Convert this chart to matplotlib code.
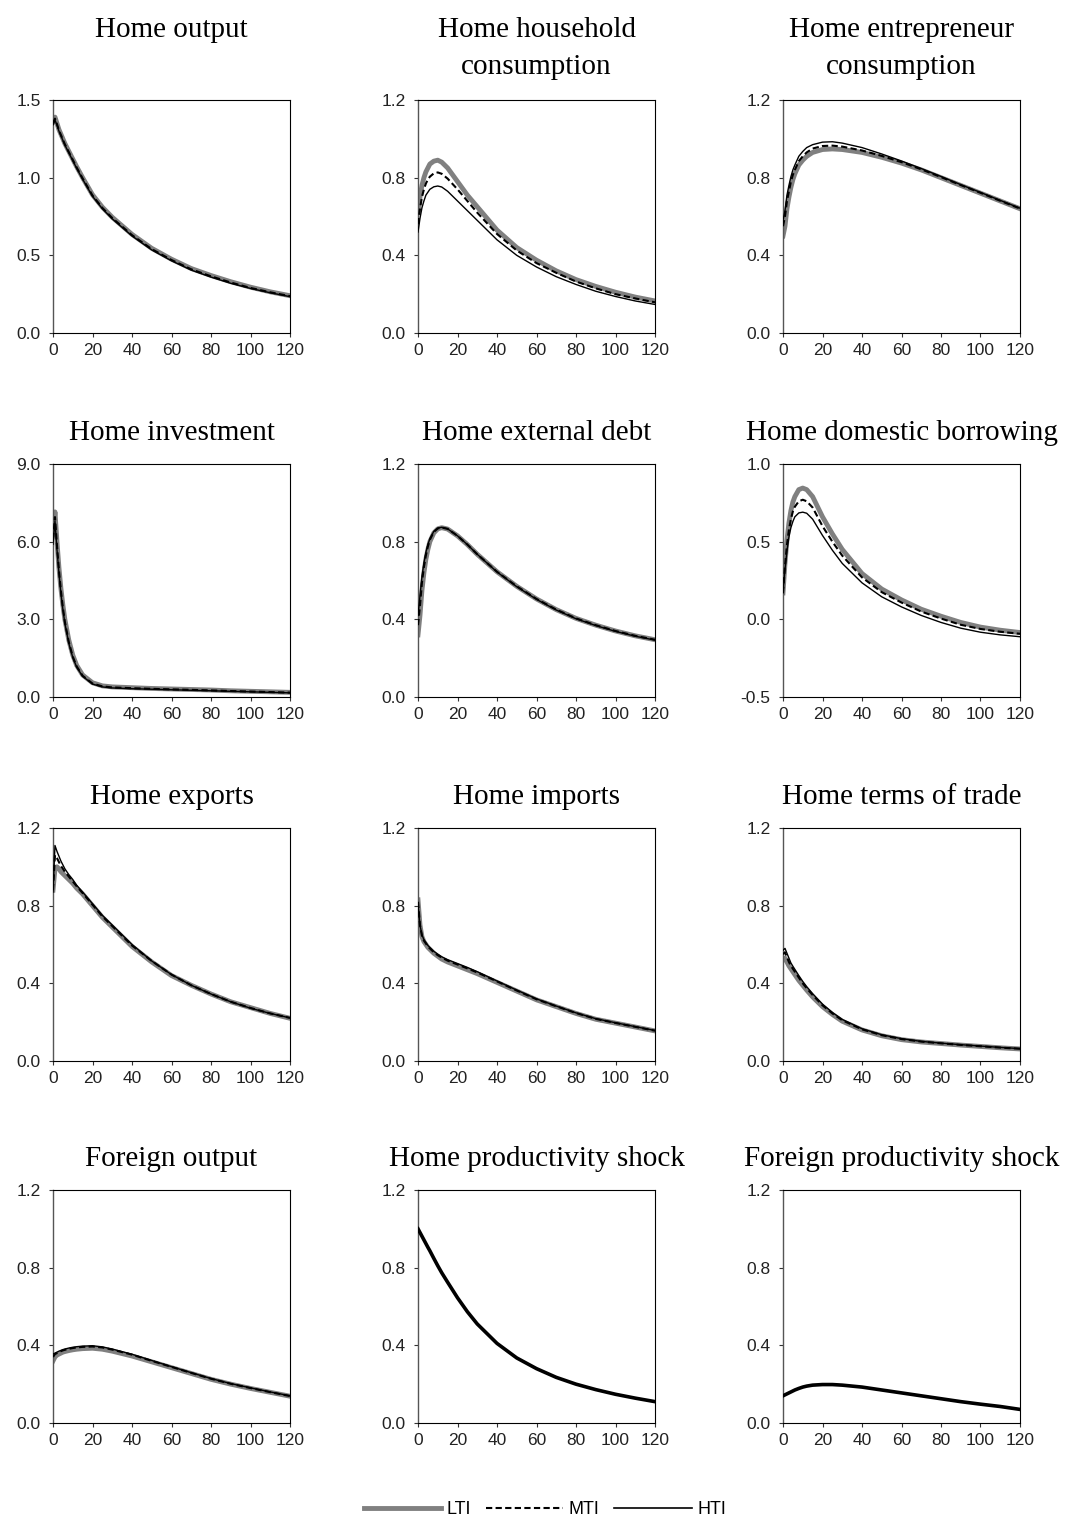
import numpy as np
import matplotlib
matplotlib.use("Agg")
import matplotlib.pyplot as plt
from matplotlib.lines import Line2D
from matplotlib.ticker import FormatStrFormatter

plt.rcParams["font.family"] = ["Liberation Sans", "DejaVu Sans"]

t = [0, 1, 2, 3, 4, 5, 6, 8, 10, 12, 15, 20, 25, 30, 40, 50, 60, 70, 80, 90, 100, 110, 120]

# Home output
output_lti = [1.36, 1.39, 1.35, 1.31, 1.28, 1.25, 1.22, 1.17, 1.12, 1.07, 1.00, 0.89, 0.81, 0.745, 0.635, 0.545, 0.475, 0.415, 0.37, 0.33, 0.295, 0.265, 0.24]
output_mti = [1.35, 1.38, 1.345, 1.305, 1.275, 1.245, 1.215, 1.165, 1.115, 1.065, 0.995, 0.885, 0.805, 0.74, 0.63, 0.54, 0.47, 0.41, 0.365, 0.325, 0.29, 0.262, 0.237]
output_hti = [1.34, 1.37, 1.34, 1.30, 1.27, 1.24, 1.21, 1.16, 1.11, 1.06, 0.99, 0.88, 0.80, 0.735, 0.625, 0.535, 0.465, 0.405, 0.36, 0.32, 0.287, 0.259, 0.234]

# Home household consumption
hhcons_lti = [0.62, 0.70, 0.76, 0.80, 0.83, 0.85, 0.87, 0.885, 0.89, 0.88, 0.85, 0.78, 0.71, 0.65, 0.53, 0.44, 0.375, 0.32, 0.275, 0.24, 0.21, 0.185, 0.165]
hhcons_mti = [0.56, 0.64, 0.70, 0.74, 0.77, 0.79, 0.805, 0.822, 0.827, 0.82, 0.795, 0.74, 0.68, 0.62, 0.51, 0.425, 0.36, 0.31, 0.265, 0.23, 0.20, 0.178, 0.158]
hhcons_hti = [0.52, 0.59, 0.645, 0.68, 0.71, 0.725, 0.74, 0.753, 0.757, 0.752, 0.73, 0.68, 0.63, 0.58, 0.48, 0.40, 0.34, 0.29, 0.25, 0.215, 0.188, 0.165, 0.147]

# Home entrepreneur consumption
encons_lti = [0.50, 0.55, 0.64, 0.70, 0.75, 0.79, 0.82, 0.865, 0.89, 0.91, 0.93, 0.945, 0.948, 0.945, 0.93, 0.905, 0.875, 0.84, 0.80, 0.76, 0.72, 0.68, 0.64]
encons_mti = [0.55, 0.60, 0.68, 0.73, 0.78, 0.815, 0.84, 0.885, 0.91, 0.93, 0.95, 0.963, 0.965, 0.96, 0.94, 0.912, 0.88, 0.843, 0.803, 0.762, 0.722, 0.681, 0.641]
encons_hti = [0.58, 0.63, 0.71, 0.76, 0.805, 0.84, 0.865, 0.91, 0.935, 0.955, 0.97, 0.983, 0.985, 0.978, 0.955, 0.922, 0.886, 0.847, 0.806, 0.764, 0.724, 0.683, 0.643]

# Home investment
invest_lti = [6.3, 7.15, 6.0, 5.0, 4.2, 3.55, 3.0, 2.2, 1.62, 1.22, 0.85, 0.55, 0.43, 0.39, 0.36, 0.33, 0.31, 0.29, 0.27, 0.24, 0.22, 0.20, 0.18]
invest_mti = [6.1, 6.95, 5.85, 4.9, 4.1, 3.45, 2.9, 2.12, 1.56, 1.18, 0.82, 0.52, 0.41, 0.37, 0.34, 0.315, 0.295, 0.275, 0.255, 0.23, 0.21, 0.19, 0.17]
invest_hti = [5.9, 6.8, 5.7, 4.8, 4.0, 3.38, 2.85, 2.08, 1.53, 1.15, 0.80, 0.50, 0.39, 0.35, 0.32, 0.30, 0.28, 0.26, 0.24, 0.22, 0.20, 0.18, 0.16]

# Home external debt
extdebt_lti = [0.32, 0.42, 0.55, 0.64, 0.71, 0.76, 0.80, 0.845, 0.866, 0.872, 0.865, 0.83, 0.785, 0.735, 0.645, 0.57, 0.505, 0.45, 0.405, 0.37, 0.34, 0.315, 0.295]
extdebt_mti = [0.37, 0.47, 0.59, 0.67, 0.73, 0.775, 0.81, 0.85, 0.868, 0.873, 0.866, 0.83, 0.785, 0.735, 0.645, 0.57, 0.505, 0.45, 0.405, 0.37, 0.34, 0.315, 0.295]
extdebt_hti = [0.42, 0.52, 0.62, 0.69, 0.745, 0.785, 0.815, 0.853, 0.87, 0.874, 0.866, 0.83, 0.785, 0.735, 0.644, 0.568, 0.503, 0.448, 0.403, 0.368, 0.338, 0.313, 0.293]

# Home domestic borrowing
borrow_lti = [0.17, 0.36, 0.51, 0.62, 0.70, 0.755, 0.79, 0.835, 0.845, 0.835, 0.79, 0.66, 0.55, 0.45, 0.295, 0.195, 0.125, 0.065, 0.02, -0.02, -0.05, -0.07, -0.085]
borrow_mti = [0.17, 0.34, 0.48, 0.575, 0.645, 0.695, 0.725, 0.76, 0.77, 0.76, 0.72, 0.60, 0.50, 0.41, 0.27, 0.175, 0.108, 0.05, 0.005, -0.035, -0.062, -0.08, -0.093]
borrow_hti = [0.17, 0.32, 0.44, 0.53, 0.59, 0.63, 0.66, 0.685, 0.69, 0.683, 0.645, 0.54, 0.445, 0.36, 0.235, 0.145, 0.08, 0.025, -0.02, -0.057, -0.083, -0.10, -0.112]

# Home exports
exports_lti = [0.88, 0.99, 1.00, 0.99, 0.975, 0.965, 0.955, 0.935, 0.915, 0.89, 0.86, 0.80, 0.74, 0.69, 0.59, 0.51, 0.44, 0.39, 0.345, 0.305, 0.275, 0.245, 0.22]
exports_mti = [0.88, 1.06, 1.045, 1.025, 1.005, 0.99, 0.975, 0.95, 0.925, 0.90, 0.865, 0.805, 0.745, 0.695, 0.595, 0.515, 0.445, 0.39, 0.345, 0.305, 0.273, 0.245, 0.222]
exports_hti = [0.87, 1.11, 1.08, 1.055, 1.03, 1.01, 0.99, 0.96, 0.935, 0.905, 0.87, 0.81, 0.75, 0.70, 0.60, 0.515, 0.445, 0.39, 0.345, 0.305, 0.272, 0.245, 0.222]

# Home imports
imports_lti = [0.83, 0.70, 0.64, 0.615, 0.60, 0.585, 0.575, 0.555, 0.54, 0.525, 0.51, 0.49, 0.47, 0.45, 0.405, 0.36, 0.315, 0.28, 0.245, 0.215, 0.195, 0.175, 0.155]
imports_mti = [0.82, 0.70, 0.645, 0.62, 0.605, 0.59, 0.58, 0.56, 0.545, 0.533, 0.517, 0.497, 0.477, 0.456, 0.41, 0.363, 0.318, 0.282, 0.247, 0.217, 0.196, 0.176, 0.156]
imports_hti = [0.81, 0.70, 0.65, 0.625, 0.61, 0.595, 0.585, 0.565, 0.55, 0.537, 0.522, 0.502, 0.482, 0.46, 0.412, 0.365, 0.32, 0.283, 0.248, 0.218, 0.197, 0.177, 0.157]

# Home terms of trade
tot_lti = [0.52, 0.53, 0.51, 0.49, 0.475, 0.46, 0.445, 0.415, 0.39, 0.365, 0.33, 0.28, 0.24, 0.205, 0.16, 0.13, 0.11, 0.098, 0.09, 0.082, 0.075, 0.068, 0.062]
tot_mti = [0.55, 0.56, 0.535, 0.51, 0.49, 0.475, 0.46, 0.43, 0.40, 0.375, 0.34, 0.287, 0.245, 0.21, 0.163, 0.133, 0.113, 0.10, 0.091, 0.083, 0.076, 0.069, 0.063]
tot_hti = [0.57, 0.58, 0.555, 0.53, 0.505, 0.488, 0.472, 0.44, 0.41, 0.383, 0.347, 0.293, 0.25, 0.214, 0.166, 0.135, 0.115, 0.101, 0.092, 0.084, 0.077, 0.07, 0.064]

# Foreign output
foutput_lti = [0.32, 0.34, 0.35, 0.355, 0.36, 0.365, 0.368, 0.373, 0.377, 0.38, 0.383, 0.385, 0.38, 0.37, 0.345, 0.315, 0.285, 0.255, 0.225, 0.20, 0.178, 0.158, 0.138]
foutput_mti = [0.34, 0.355, 0.36, 0.365, 0.37, 0.374, 0.377, 0.382, 0.386, 0.389, 0.392, 0.394, 0.389, 0.378, 0.352, 0.32, 0.289, 0.258, 0.228, 0.202, 0.18, 0.159, 0.139]
foutput_hti = [0.355, 0.36, 0.365, 0.37, 0.374, 0.378, 0.381, 0.386, 0.39, 0.393, 0.396, 0.398, 0.392, 0.381, 0.354, 0.322, 0.29, 0.259, 0.229, 0.203, 0.181, 0.16, 0.14]

# productivity shocks (identical across regimes)
hshock = [1.0, 0.981, 0.962, 0.943, 0.924, 0.905, 0.887, 0.848, 0.81, 0.774, 0.725, 0.645, 0.573, 0.51, 0.41, 0.335, 0.28, 0.235, 0.20, 0.172, 0.148, 0.128, 0.11]
fshock = [0.14, 0.145, 0.15, 0.155, 0.16, 0.165, 0.17, 0.178, 0.185, 0.19, 0.195, 0.198, 0.198, 0.195, 0.185, 0.17, 0.155, 0.14, 0.125, 0.11, 0.097, 0.085, 0.07]

titles = ["Home output", "Home household\nconsumption", "Home entrepreneur\nconsumption",
          "Home investment", "Home external debt", "Home domestic borrowing",
          "Home exports", "Home imports", "Home terms of trade",
          "Foreign output", "Home productivity shock", "Foreign productivity shock"]
yticks = [[0, 0.5, 1.0, 1.5], [0, 0.4, 0.8, 1.2], [0, 0.4, 0.8, 1.2],
          [0, 3, 6, 9], [0, 0.4, 0.8, 1.2], [-0.5, 0, 0.5, 1.0],
          [0, 0.4, 0.8, 1.2], [0, 0.4, 0.8, 1.2], [0, 0.4, 0.8, 1.2],
          [0, 0.4, 0.8, 1.2], [0, 0.4, 0.8, 1.2], [0, 0.4, 0.8, 1.2]]
series = [(output_lti, output_mti, output_hti), (hhcons_lti, hhcons_mti, hhcons_hti),
          (encons_lti, encons_mti, encons_hti), (invest_lti, invest_mti, invest_hti),
          (extdebt_lti, extdebt_mti, extdebt_hti), (borrow_lti, borrow_mti, borrow_hti),
          (exports_lti, exports_mti, exports_hti), (imports_lti, imports_mti, imports_hti),
          (tot_lti, tot_mti, tot_hti), (foutput_lti, foutput_mti, foutput_hti),
          (hshock,), (fshock,)]

W, H = 1066, 1517
fig = plt.figure(figsize=(W / 100, H / 100), dpi=100)

col_left = [53, 418, 783]
row_top = [100, 464, 828, 1190]
ax_w, ax_h = 237, 233

for i, title in enumerate(titles):
    r, c = divmod(i, 3)
    ax = fig.add_axes([col_left[c] / W, 1 - (row_top[r] + ax_h) / H, ax_w / W, ax_h / H])
    s = series[i]
    if len(s) == 3:
        ax.plot(t, s[0], color="#808080", lw=3.5, zorder=2)
        ax.plot(t, s[1], color="black", lw=1.5, ls=(0, (3, 1.6)), zorder=3)
        ax.plot(t, s[2], color="black", lw=1.0, zorder=4)
    else:
        ax.plot(t, s[0], color="black", lw=2.6, zorder=3)
    ax.set_xlim(0, 120)
    ax.set_xticks([0, 20, 40, 60, 80, 100, 120])
    ax.set_yticks(yticks[i])
    ax.set_ylim(yticks[i][0], yticks[i][-1])
    ax.yaxis.set_major_formatter(FormatStrFormatter("%.1f"))
    ax.tick_params(labelsize=12.5, length=3, width=0.8, pad=4, colors="#333333", labelcolor="#222222")
    ax.tick_params(axis="y", pad=6)
    for side in ["top", "right", "bottom"]:
        ax.spines[side].set_linewidth(0.8)
        ax.spines[side].set_color("black")
    ax.spines["left"].set_linewidth(1.0)
    ax.spines["left"].set_color("#555555")
    # titles share the same top edge within a row
    ty = 1 + (83 if r == 0 else 44) / ax_h
    ax.text(0.5, ty, title, transform=ax.transAxes, ha="center", va="top",
            fontsize=21, family="Liberation Serif", linespacing=1.55)

handles = [Line2D([], [], color="#808080", lw=3.5),
           Line2D([], [], color="black", lw=1.5, ls=(0, (3, 1.6))),
           Line2D([], [], color="black", lw=1.2)]
fig.legend(handles, ["LTI", "MTI", "HTI"], loc="lower center", bbox_to_anchor=(0.511, -0.009),
           ncol=3, frameon=False, fontsize=13, handlelength=4.3, handletextpad=0.3,
           columnspacing=0.8, borderpad=0.2)

fig.savefig("out.png", dpi=100)
